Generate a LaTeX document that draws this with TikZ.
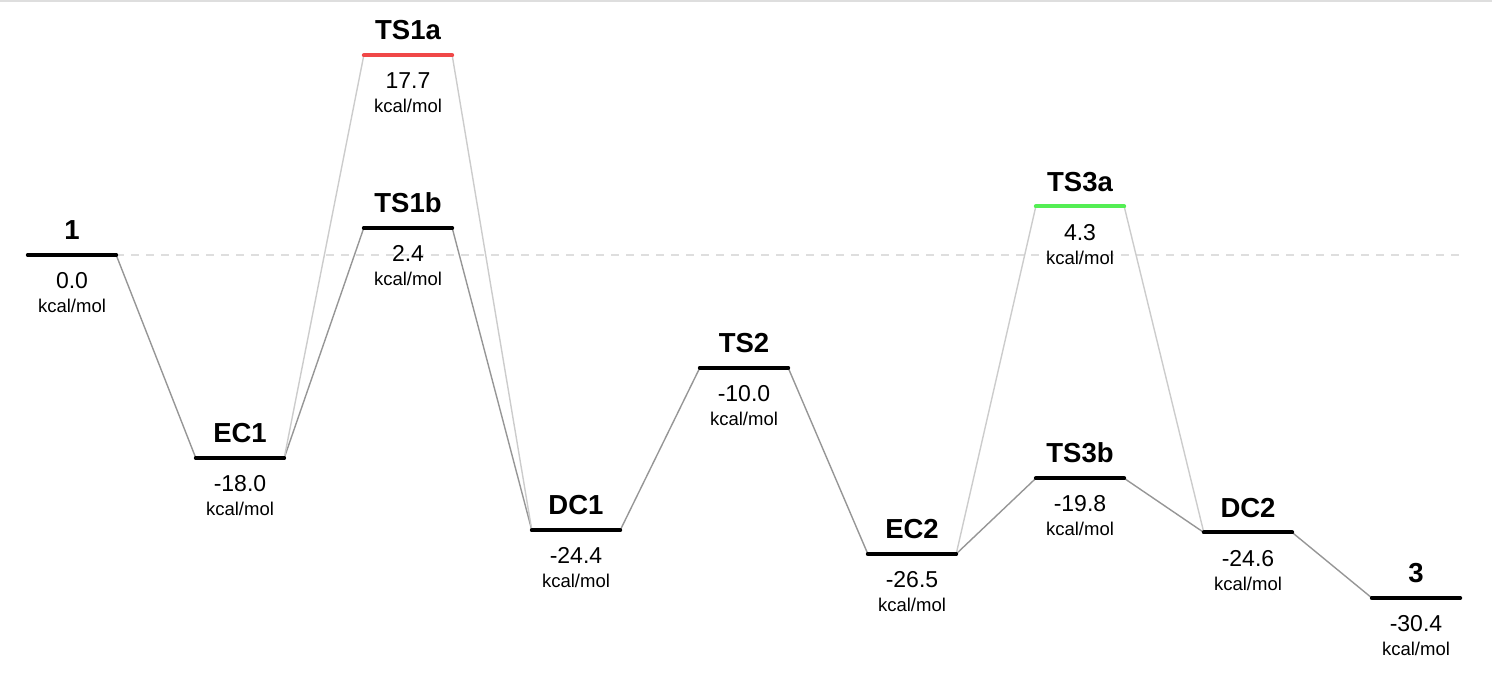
\documentclass[tikz,border=0pt]{standalone}
\usepackage{fontspec}
\setmainfont{Liberation Sans}
\definecolor{tsred}{RGB}{240,72,72}
\definecolor{tsgreen}{RGB}{84,238,84}
\definecolor{pathdark}{RGB}{150,150,150}
\definecolor{pathlight}{RGB}{204,204,204}
\definecolor{zeroline}{RGB}{222,222,222}
\tikzset{
    level/.style={rectangle,minimum width=88pt,minimum height=0pt,inner sep=0pt},
    bar/.style={line width=4pt,line cap=round},
    species/.style={anchor=base,yshift=15.4pt,font=\fontsize{27.5}{31}\selectfont\bfseries},
    energy/.style={anchor=base,yshift=-33.6pt,font=\fontsize{23}{27}\selectfont},
    unit/.style={anchor=base,yshift=-57.6pt,font=\fontsize{18.5}{22}\selectfont},
}
\begin{document}
\begin{tikzpicture}[x=1pt,y=11.28pt]
\useasboundingbox (0,22.606) rectangle (1492,-37.677);
\draw[zeroline,line width=2pt] (0,22.55) -- (1492,22.55);

\begin{scope}[every node/.style={level}]
    \node (S1)   at (72,0)      {};
    \node (EC1)  at (240,-18.0) {};
    \node (TS1a) at (408,17.7)  {};
    \node (TS1b) at (408,2.4)   {};
    \node (DC1)  at (576,-24.4) {};
    \node (TS2)  at (744,-10.0) {};
    \node (EC2)  at (912,-26.5) {};
    \node (TS3a) at (1080,4.3)  {};
    \node (TS3b) at (1080,-19.8){};
    \node (DC2)  at (1248,-24.6){};
    \node (S3)   at (1416,-30.4){};
\end{scope}

% reference energy
\draw[zeroline,line width=1.5pt,dash pattern=on 8pt off 7pt] (S1.east) -- (S1.east -| S3.east);

\begin{scope}[every path/.style={line width=1.4pt}]
    % main path
    \draw[pathdark] (S1.east) -- (EC1.west);
    \draw[pathdark] (EC1.east) -- (TS1b.west);
    \draw[pathdark] (TS1b.east) -- (DC1.west);
    \draw[pathdark] (DC1.east) -- (TS2.west);
    \draw[pathdark] (TS2.east) -- (EC2.west);
    \draw[pathdark] (EC2.east) -- (TS3b.west);
    \draw[pathdark] (TS3b.east) -- (DC2.west);
    \draw[pathdark] (DC2.east) -- (S3.west);
    % other path
    \draw[pathlight] (EC1.east) -- (TS1a.west);
    \draw[pathlight] (TS1a.east) -- (DC1.west);
    \draw[pathlight] (EC2.east) -- (TS3a.west);
    \draw[pathlight] (TS3a.east) -- (DC2.west);
\end{scope}

% levels
\draw[bar] (S1.west) -- (S1.east);
\draw[bar] (EC1.west) -- (EC1.east);
\draw[bar,tsred] (TS1a.west) -- (TS1a.east);
\draw[bar] (TS1b.west) -- (TS1b.east);
\draw[bar] (DC1.west) -- (DC1.east);
\draw[bar] (TS2.west) -- (TS2.east);
\draw[bar] (EC2.west) -- (EC2.east);
\draw[bar,tsgreen] (TS3a.west) -- (TS3a.east);
\draw[bar] (TS3b.west) -- (TS3b.east);
\draw[bar] (DC2.west) -- (DC2.east);
\draw[bar] (S3.west) -- (S3.east);

% labels
\node[species] (S1n) at (S1) {1};
\node[energy] (S1e) at (S1) {0.0};
\node[unit] (S1u) at (S1) {kcal/mol};
\node[species] (EC1n) at (EC1) {EC1};
\node[energy] (EC1e) at (EC1) {-18.0};
\node[unit] (EC1u) at (EC1) {kcal/mol};
\node[species] (TS1an) at (TS1a) {TS1a};
\node[energy] (TS1ae) at (TS1a) {17.7};
\node[unit] (TS1au) at (TS1a) {kcal/mol};
\node[species] (TS1bn) at (TS1b) {TS1b};
\node[energy] (TS1be) at (TS1b) {2.4};
\node[unit] (TS1bu) at (TS1b) {kcal/mol};
\node[species] (DC1n) at (DC1) {DC1};
\node[energy] (DC1e) at (DC1) {-24.4};
\node[unit] (DC1u) at (DC1) {kcal/mol};
\node[species] (TS2n) at (TS2) {TS2};
\node[energy] (TS2e) at (TS2) {-10.0};
\node[unit] (TS2u) at (TS2) {kcal/mol};
\node[species] (EC2n) at (EC2) {EC2};
\node[energy] (EC2e) at (EC2) {-26.5};
\node[unit] (EC2u) at (EC2) {kcal/mol};
\node[species] (TS3an) at (TS3a) {TS3a};
\node[energy] (TS3ae) at (TS3a) {4.3};
\node[unit] (TS3au) at (TS3a) {kcal/mol};
\node[species] (TS3bn) at (TS3b) {TS3b};
\node[energy] (TS3be) at (TS3b) {-19.8};
\node[unit] (TS3bu) at (TS3b) {kcal/mol};
\node[species] (DC2n) at (DC2) {DC2};
\node[energy] (DC2e) at (DC2) {-24.6};
\node[unit] (DC2u) at (DC2) {kcal/mol};
\node[species] (S3n) at (S3) {3};
\node[energy] (S3e) at (S3) {-30.4};
\node[unit] (S3u) at (S3) {kcal/mol};
\end{tikzpicture}
\end{document}
